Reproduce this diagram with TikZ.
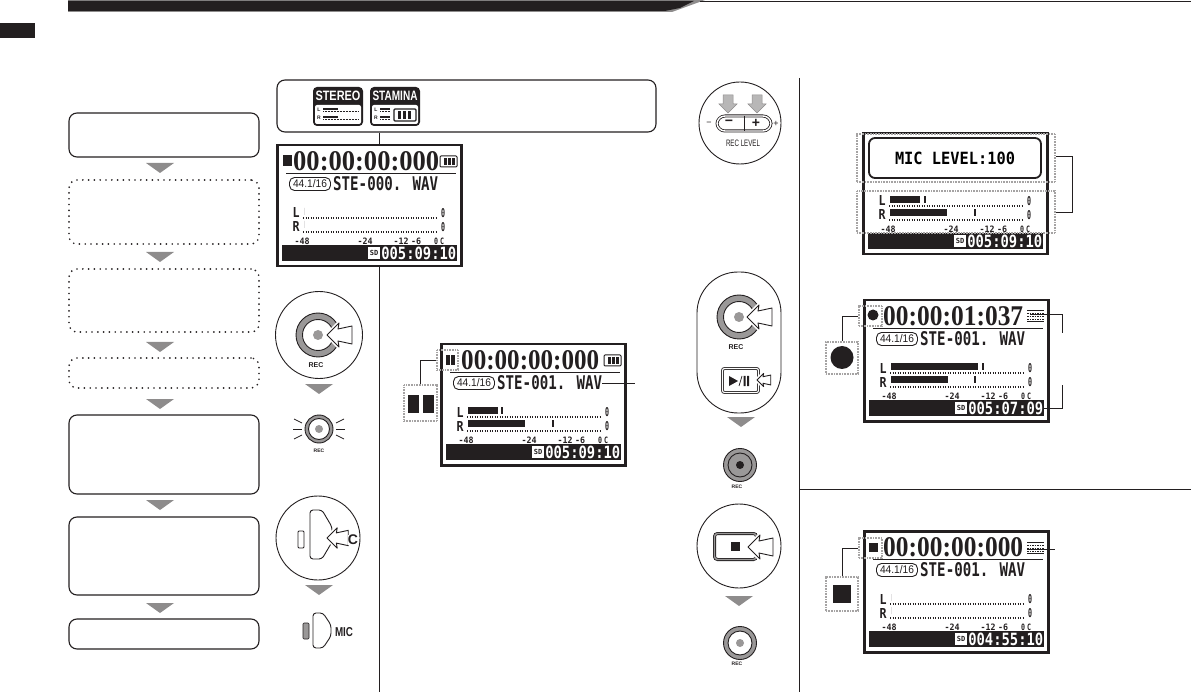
\documentclass[tikz,border=0pt]{standalone}
\usepackage{fontspec}
\usepackage{graphicx}
\usepackage{xcolor}
\setmainfont{Liberation Sans}
\newfontfamily\lcdfont{DejaVu Sans Mono}
\newfontfamily\timefont{Liberation Serif}
\usetikzlibrary{arrows.meta, positioning, calc}

\definecolor{inkblk}{HTML}{231F20}
\definecolor{tonegray}{HTML}{8E8C8C}
\definecolor{ringgray}{HTML}{9A9898}

\tikzset{
  batfull/.pic={
    \draw[inkblk,line width=1pt,rounded corners=1pt] (0,-5) rectangle (17,6);
    \foreach \bx in {4,8,12} { \fill[inkblk] (\bx,-3) rectangle (\bx+2.6,4); }
  },
  batdim/.pic={
    \draw[inkblk,line width=1pt] (0,-5) -- (17,-5) (0,6) -- (17,6);
    \foreach \by in {-2,1,4} { \draw[inkblk,line width=1pt,dash pattern=on 1.5pt off 1pt] (0,\by) -- (17,\by); }
  }
}

% Frame, meters and the black status bar of a screen
\newcommand{\lcdlower}[8]{
  \node[lcdframe,anchor=north west] (#1) at (#2,#3) {};
  \begin{scope}[shift={(#2,#3)}]
    \node[lcdtxt] (#1-l) at (20,69) {\resizebox{7pt}{10pt}{\lcdfont\bfseries L}};
    \node[lcdtxt] (#1-r) at (20,83) {\resizebox{7pt}{10pt}{\lcdfont\bfseries R}};
    \draw[inkblk,line width=1.1pt,dash pattern=on 1pt off 1.5pt] (27,74) -- (161,74);
    \draw[inkblk,line width=1.1pt,dash pattern=on 1pt off 1.5pt] (27,88) -- (161,88);
    \fill[inkblk] (28,64) rectangle (#5,71);
    \fill[inkblk] (28,77) rectangle (#7,84);
    \ifnum#6>0 \fill[inkblk] (#6,64) rectangle (#6+2,71); \fi
    \ifnum#8>0 \fill[inkblk] (#8,77) rectangle (#8+2,84); \fi
    \node[lcdtxt] (#1-lz) at (167,69) {\resizebox{4pt}{9pt}{\lcdfont\bfseries 0}};
    \node[lcdtxt] (#1-rz) at (167,83) {\resizebox{4pt}{9pt}{\lcdfont\bfseries 0}};
    \foreach \sx/\stext/\swide in {26/-48/15,89/-24/15,125/-12/15,140/-6/10,160/0/4,166/C/4} {
      \node[lcdtxt] at (\sx,97) {\resizebox{\swide pt}{6.5pt}{\lcdfont\bfseries \stext}};
    }
    \node[statusbar,anchor=north west] (#1-bar) at (6,101) {};
    \node[sdtag] (#1-sd) at (98,109) {SD};
    \node[lcdtxt,text=white,anchor=east] (#1-rem) at (180.5,109) {\resizebox{75pt}{12.5pt}{\lcdfont\bfseries #4}};
  \end{scope}
}

% Counter line and file name of a screen
\newcommand{\lcdupper}[8]{
  \begin{scope}[shift={(#2,#3)}]
    \node[lcdtxt,anchor=west] (#1-time) at (#6,17) {\resizebox{#7pt}{19pt}{\timefont\bfseries #4}};
    \pic at (164,17) {#8};
    \draw[inkblk,line width=.8pt] (10,29) -- (180,29);
    \node[ratepill] (#1-rate) at (34,40) {\resizebox{34pt}{8pt}{44.1/16}};
    \node[lcdtxt,anchor=west] (#1-file) at (57,40) {\resizebox{105pt}{14pt}{\lcdfont\bfseries #5}};
  \end{scope}
}

% Ring of the REC key
\newcommand{\recring}[3]{
  \node[keyround,fill=ringgray,minimum size=44pt] (#1) at (#2,#3) {};
  \node[keyround,fill=white,minimum size=31pt] at (#2,#3) {};
  \node[circle,fill=ringgray,minimum size=10pt,inner sep=0pt] at (#2,#3) {};
}

% White hand-press arrow, tip at the given point
\newcommand{\pressarrow}[3]{
  \begin{scope}[shift={(#1,#2)},scale=#3]
    \draw[white,line width=4pt,line join=round] (0,0) -- (12,-12) -- (11,-6) -- (25,-9) -- (25,9) -- (11,6) -- (12,12) -- cycle;
    \draw[inkblk,fill=white,line width=.9pt,line join=round] (0,0) -- (12,-12) -- (11,-6) -- (25,-9) -- (25,9) -- (11,6) -- (12,12) -- cycle;
  \end{scope}
}

\begin{document}
\begin{tikzpicture}[x=1pt,y=-1pt,
  flowbox/.style={draw=inkblk,line width=1.1pt,rounded corners=8pt,inner sep=0pt,minimum width=190pt},
  flowdots/.style={draw=inkblk,line width=1.9pt,line cap=round,dash pattern=on 0pt off 5.8pt,rounded corners=8pt,inner sep=0pt,minimum width=190pt},
  calloutbox/.style={draw=tonegray!80,line width=1.6pt,dash pattern=on .9pt off .7pt,inner sep=0pt},
  lcdframe/.style={draw=inkblk,line width=2.5pt,fill=white,inner sep=0pt,minimum width=184pt,minimum height=121pt},
  lcdtxt/.style={inner sep=0pt,text=inkblk},
  statusbar/.style={fill=inkblk,inner sep=0pt,minimum width=175pt,minimum height=16pt},
  sdtag/.style={fill=white,text=inkblk,inner sep=0pt,minimum width=12pt,minimum height=12pt,font=\lcdfont\bfseries\fontsize{7}{7}\selectfont},
  ratepill/.style={draw=inkblk,line width=.9pt,rounded corners=5pt,inner sep=0pt,minimum width=41pt,minimum height=13pt,text=inkblk},
  keyround/.style={circle,draw=inkblk,line width=.9pt,inner sep=0pt},
  leadline/.style={draw=inkblk,line width=.8pt},
  keylabel/.style={inner sep=0pt,text=inkblk,font=\bfseries\fontsize{7}{7}\selectfont}
]
\useasboundingbox (0,0) rectangle (1191,692);

% Header
\fill[tonegray] (68,0) -- (705,0) -- (672,12) -- (68,12) -- cycle;
\fill[inkblk] (68,1) -- (694,1) -- (680,8) -- (665,11) -- (68,11) -- cycle;
\coordinate (headl) at (700,1.5);
\coordinate (headr) at (1191,1.5);
\draw[leadline] (headl) -- (headr);
\fill[inkblk] (0,23) rectangle (35,38);

% Flow boxes on the left
\node[flowbox,minimum height=44pt] (boxa) at (164,135) {};
\node[flowdots,minimum height=64pt] (boxb) at (164,212) {};
\node[flowdots,minimum height=63pt] (boxc) at (164,300.5) {};
\node[flowdots,minimum height=30pt] (boxd) at (164,373) {};
\node[flowbox,minimum height=79pt] (boxe) at (164,454.5) {};
\node[flowbox,minimum height=78pt] (boxf) at (164,556) {};
\node[flowbox,minimum height=30pt] (boxg) at (164,634) {};

% Down triangles
\foreach \tx/\ty in {160/163,160/252,160/342,160/399,160/500,160/603,319/384,319/585,741/417,739/596} {
  \fill[tonegray] (\tx-14,\ty) -- (\tx+14,\ty) -- (\tx,\ty+10) -- cycle;
}

% Mode panel with the two badges
\node[flowbox,minimum width=379pt,minimum height=52pt] (modebox) at (466.5,106) {};
\foreach \bgx/\bgname in {313/STEREO,370/STAMINA} {
  \fill[inkblk,rounded corners=4pt] (\bgx,87) rectangle (\bgx+50,126);
  \fill[white,rounded corners=2pt] (\bgx+2,105) rectangle (\bgx+48,124);
  \node[inner sep=0pt,text=white] at (\bgx+25,96) {\resizebox{45pt}{9.5pt}{\bfseries \bgname}};
  \node[keylabel,font=\bfseries\fontsize{5}{5}\selectfont] at (\bgx+6,110) {L};
  \node[keylabel,font=\bfseries\fontsize{5}{5}\selectfont] at (\bgx+6,118) {R};
}
\foreach \my in {110,118} {
  \fill[inkblk] (323,\my-2) rectangle (338,\my);
  \draw[inkblk,densely dotted,line width=.5pt] (323,\my+1) -- (358,\my+1);
  \fill[inkblk] (380,\my-2) rectangle (390,\my);
  \draw[inkblk,densely dotted,line width=.5pt] (380,\my+1) -- (390,\my+1);
}
\draw[inkblk,line width=1.2pt,rounded corners=1pt] (394,109) rectangle (416,121);
\foreach \bx in {398,403,408} { \fill[inkblk] (\bx,111) rectangle (\bx+3,119); }

% Screen, top left
\lcdlower{scra}{276}{144}{005:09:10}{28}{0}{28}{0}
\lcdupper{scra}{276}{144}{00:00:00:000}{STE-000. WAV}{17}{146}{batfull}
\node[fill=inkblk,inner sep=0pt,minimum width=9pt,minimum height=11pt] (stopa) at (287.5,161) {};
\coordinate (colend) at (379,692);
\draw[leadline] (modebox.south -| colend) -- (scra.north -| colend);
\draw[leadline] (scra.south -| colend) -- (colend);

% Keys, second column
\node[keyround,minimum size=87pt] (reckey) at (319,335) {};
\recring{recringa}{318}{335}
\pressarrow{327}{335}{1}
\node[keylabel] (reclabela) at (316,365) {REC};
\node[keyround,fill=ringgray,minimum size=28pt] (recblink) at (319,429) {};
\node[keyround,fill=white,minimum size=21pt] at (319,429) {};
\node[circle,fill=ringgray,minimum size=8pt,inner sep=0pt] at (319,429) {};
\foreach \s in {-1,1} {
  \draw[inkblk,line width=.7pt] (319+\s*25,419) -- (319+\s*17,423);
  \draw[inkblk,line width=.7pt] (319+\s*26,429) -- (319+\s*17,429);
  \draw[inkblk,line width=.7pt] (319+\s*25,439) -- (319+\s*17,435);
}
\node[keylabel,font=\bfseries\fontsize{5}{5}\selectfont] (reclabelb) at (319,451) {REC};
\node[keyround,minimum size=84pt] (mickey) at (318,538) {};
\draw[inkblk,line width=.8pt,rounded corners=1pt] (298,531) rectangle (304,548);
\draw[inkblk,line width=.9pt,rounded corners=3pt] (310,510) -- (322,510) -- (332,527) -- (332,542) -- (322,559) -- (310,559) -- cycle;
\pressarrow{327}{538}{.85}
\node[keylabel,font=\bfseries\fontsize{14}{14}\selectfont,fill=white] (clabel) at (353,540) {C};
\draw[inkblk,fill=ringgray,line width=.6pt,rounded corners=1pt] (303,623) rectangle (309,639);
\draw[inkblk,line width=.9pt,rounded corners=3pt] (313,613) -- (323,613) -- (331,625) -- (331,636) -- (323,648) -- (313,648) -- cycle;
\node[keylabel] (miclabel) at (344,632) {\resizebox{18pt}{9pt}{\bfseries MIC}};

% Screen, middle
\lcdlower{scrb}{440}{343}{005:09:10}{58}{61}{85}{112}
\lcdupper{scrb}{440}{343}{00:00:00:000}{STE-001. WAV}{21}{138}{batfull}
\node[calloutbox,minimum width=21pt,minimum height=20pt] (pausesmall) at (447.5,360) {};
\node[calloutbox,minimum width=33pt,minimum height=36pt] (pausebig) at (420.5,403) {};
\foreach \bx in {446,451} { \fill[inkblk] (\bx,355) rectangle (\bx+4,365); }
\foreach \bx in {408,422.5} { \fill[inkblk] (\bx,395) rectangle (\bx+11,413); }
\draw[leadline] (pausesmall.west) -| (pausebig.north);
\coordinate (fileend) at (635,383);
\draw[leadline] (scrb-file.east) -- (fileend);

% Keys, third column
\node[keyround,minimum size=82pt] (levelkey) at (740,123) {};
\foreach \ax in {728,757} {
  \fill[ringgray!70,draw=tonegray,line width=.5pt] (\ax-5,95) -- (\ax+5,95) -- (\ax+5,104) -- (\ax+9,104) -- (\ax,113) -- (\ax-9,104) -- (\ax-5,104) -- cycle;
}
\node[draw=inkblk,double=white,double distance=1.4pt,line width=.8pt,rounded corners=8pt,inner sep=0pt,minimum width=54pt,minimum height=15pt] (levelpill) at (744,123.5) {};
\draw[inkblk,line width=.8pt] (levelpill.north) -- (levelpill.south);
\node[keylabel,font=\bfseries\fontsize{14}{14}\selectfont] at (729,123) {−};
\node[keylabel,font=\bfseries\fontsize{14}{14}\selectfont] at (756,123) {+};
\node[keylabel,font=\fontsize{9}{9}\selectfont] at (709,124) {−};
\node[keylabel,font=\fontsize{9}{9}\selectfont] at (776,124) {+};
\node[keylabel] (levellabel) at (743,143) {\resizebox{34pt}{6.5pt}{\mdseries REC LEVEL}};
\draw[inkblk,line width=.9pt,rounded corners=41pt] (697,272) rectangle (781,413);
\recring{recringb}{739}{317}
\pressarrow{747}{317}{1}
\node[keylabel] (reclabelc) at (736,347) {REC};
\node[draw=inkblk,double=white,double distance=1.2pt,line width=.8pt,rounded corners=2pt,inner sep=0pt,minimum width=36pt,minimum height=24pt] (playkey) at (740.5,380.5) {};
\fill[inkblk] (729,376) -- (738,381) -- (729,386) -- cycle;
\draw[inkblk,line width=.7pt] (739,386) -- (742,376);
\fill[inkblk] (743.5,376) rectangle (745.5,386) (747,376) rectangle (749,386);
\pressarrow{757}{380}{.55}
\node[keyround,fill=ringgray,minimum size=33pt] (reclit) at (740,465) {};
\node[keyround,fill=ringgray,minimum size=24pt] at (740,465) {};
\node[circle,fill=inkblk,minimum size=8pt,inner sep=0pt] at (740,465) {};
\node[keylabel,font=\bfseries\fontsize{5}{5}\selectfont] (reclabeld) at (737,487) {REC};
\node[keyround,minimum size=84pt] (stopkey) at (739,546) {};
\node[draw=inkblk,double=ringgray,double distance=1.4pt,line width=.8pt,rounded corners=3pt,inner sep=0pt,minimum width=42pt,minimum height=26pt] (stopbtn) at (735.5,546.5) {};
\fill[inkblk] (731,542) rectangle (740,551);
\pressarrow{748}{547}{1}
\node[keyround,fill=ringgray,minimum size=33pt] (recoff) at (740,643) {};
\node[keyround,fill=white,minimum size=24pt] at (740,643) {};
\node[circle,fill=ringgray,minimum size=8pt,inner sep=0pt] at (740,643) {};
\node[keylabel,font=\bfseries\fontsize{5}{5}\selectfont] (reclabele) at (737,664) {REC};

% Column rules
\coordinate (rulea) at (799,78);
\coordinate (ruleb) at (799,692);
\coordinate (rulec) at (799,489);
\coordinate (ruled) at (1191,489);
\draw[leadline] (rulea) -- (ruleb);
\draw[leadline] (rulec) -- (ruled);

% Screen with the level popup
\lcdlower{scrc}{862}{132}{005:09:10}{58}{62}{85}{112}
\node[draw=inkblk,fill=white,line width=1.8pt,rounded corners=6pt,inner sep=0pt,minimum width=172pt,minimum height=40pt] (micpopup) at (955,158) {\resizebox{120pt}{12.5pt}{\lcdfont\bfseries MIC LEVEL:100}};
\node[calloutbox,minimum width=198pt,minimum height=48pt] (popupupper) at (956,158) {};
\node[calloutbox,minimum width=198pt,minimum height=42pt] (popuplower) at (956,212) {};
\coordinate (bracketa) at (1072,156);
\coordinate (bracketb) at (1072,212);
\draw[leadline] (popupupper.east |- bracketa) -- (bracketa) -- (bracketb) -- (popuplower.east |- bracketb);

% Screen while recording
\lcdlower{scrd}{863}{299}{005:07:09}{115}{119}{85}{111}
\lcdupper{scrd}{863}{299}{00:00:01:037}{STE-001. WAV}{20}{140}{batdim}
\node[calloutbox,minimum width=23pt,minimum height=20pt] (recsmall) at (870.5,316) {};
\node[calloutbox,minimum width=32pt,minimum height=32pt] (recbig) at (842,358) {};
\node[circle,fill=inkblk,inner sep=0pt,minimum width=9pt,minimum height=11pt] at (873,315) {};
\node[circle,fill=inkblk,inner sep=0pt,minimum size=23pt] at (842,357.5) {};
\draw[leadline] (recsmall.west) -| (recbig.north);
\coordinate (stubupa) at (1030,314);
\coordinate (stubupb) at (1062,333);
\coordinate (stublowa) at (1043,408);
\coordinate (stublowb) at (1062,385);
\draw[leadline] (stubupa) -| (stubupb);
\draw[leadline] (stublowa) -| (stublowb);

% Screen after stop
\lcdlower{scre}{863}{530}{004:55:10}{28}{0}{28}{0}
\lcdupper{scre}{863}{530}{00:00:00:000}{STE-001. WAV}{20}{140}{batdim}
\node[calloutbox,minimum width=23pt,minimum height=20pt] (stopsmall) at (870.5,548) {};
\node[calloutbox,minimum width=32pt,minimum height=34pt] (stopbig) at (842,594) {};
\fill[inkblk] (869,543) rectangle (878,552);
\fill[inkblk] (833,585) rectangle (851,603);
\draw[leadline] (stopsmall.west) -| (stopbig.north);
\coordinate (stopa) at (1027,549);
\coordinate (stopb) at (1055,549);
\draw[leadline] (stopa) -- (stopb);

\end{tikzpicture}
\end{document}
